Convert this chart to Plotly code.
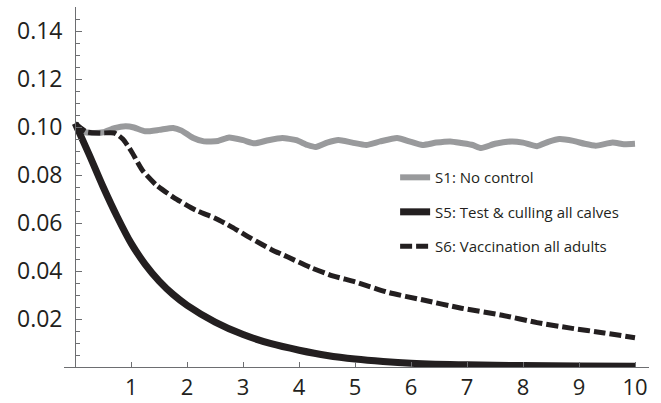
import plotly.graph_objects as go

# ---- data ----
s1_t = [0, 0.15, 0.3, 0.5, 0.7, 0.9, 1.05, 1.25, 1.5, 1.75, 1.9, 2.1, 2.3, 2.55, 2.75, 3.0, 3.2,
        3.45, 3.7, 3.95, 4.15, 4.3, 4.5, 4.7, 4.95, 5.2, 5.45, 5.75, 6.0, 6.2, 6.45, 6.7, 6.9,
        7.1, 7.25, 7.5, 7.8, 8.0, 8.25, 8.45, 8.65, 8.9, 9.1, 9.3, 9.6, 9.8, 10.0]
s1_v = [0.1012, 0.098, 0.0975, 0.0978, 0.0995, 0.1003, 0.0998, 0.0982, 0.0988, 0.0996, 0.0985,
        0.0955, 0.094, 0.0942, 0.0956, 0.0945, 0.0932, 0.0945, 0.0954, 0.0945, 0.0925, 0.0917,
        0.0935, 0.0946, 0.0935, 0.0925, 0.094, 0.0954, 0.0938, 0.0925, 0.0935, 0.094, 0.0933,
        0.0925, 0.0912, 0.093, 0.094, 0.0935, 0.092, 0.0938, 0.095, 0.0942, 0.093, 0.0922,
        0.0935, 0.0928, 0.093]

s5_t = [0, 0.25, 0.5, 0.75, 1.0, 1.25, 1.5, 1.75, 2.0, 2.5, 3.0, 3.5, 4.0, 4.5, 5.0,
        5.5, 6.0, 7.0, 8.0, 9.0, 10.0]
s5_v = [0.1015, 0.0885, 0.075, 0.0626, 0.0515, 0.0428, 0.0358, 0.0302, 0.0257, 0.0187,
        0.0135, 0.0097, 0.007, 0.0048, 0.0033, 0.0023, 0.0016, 0.0009, 0.0006, 0.0004, 0.0003]

s6_t = [0, 0.2, 0.45, 0.7, 0.85, 1.0, 1.2, 1.45, 1.75, 2.15, 2.5, 2.8, 3.15, 3.5, 3.8, 4.2,
        4.6, 5.0, 5.6, 6.2, 6.9, 7.6, 8.25, 8.85, 9.45, 10.0]
s6_v = [0.1015, 0.098, 0.0975, 0.0975, 0.095, 0.09, 0.082, 0.0758, 0.0708, 0.0654, 0.062,
        0.0583, 0.0535, 0.049, 0.0458, 0.0415, 0.038, 0.0355, 0.031, 0.028, 0.0245, 0.0217,
        0.0185, 0.0162, 0.0142, 0.0122]

series_names = ["S1: No control", "S5: Test & culling all calves", "S6: Vaccination all adults"]

x_tick_vals = [1, 2, 3, 4, 5, 6, 7, 8, 9, 10]
x_tick_text = ["1", "2", "3", "4", "5", "6", "7", "8", "9", "10"]
y_tick_vals = [0.02, 0.04, 0.06, 0.08, 0.10, 0.12, 0.14]
y_tick_text = ["0.02", "0.04", "0.06", "0.08", "0.10", "0.12", "0.14"]

X_RANGE = [-0.2, 10.25]
Y_RANGE = [0, 0.15]

INK = "#231f20"
AXIS = "#6d6e71"
FONT = "Open Sans"

fig = go.Figure()
fig.add_trace(go.Scatter(x=s1_t, y=s1_v, mode="lines", name=series_names[0], legendgroup="a",
                         line=dict(color="#999a9c", width=6, shape="spline", smoothing=0.5)))
fig.add_trace(go.Scatter(x=s5_t, y=s5_v, mode="lines", name=series_names[1], legendgroup="b",
                         line=dict(color=INK, width=7, shape="spline", smoothing=0.8)))
fig.add_trace(go.Scatter(x=s6_t, y=s6_v, mode="lines", name=series_names[2], legendgroup="c",
                         line=dict(color=INK, width=5, dash="12px,4px", shape="spline", smoothing=0.6)))

ypos = (0 - X_RANGE[0]) / (X_RANGE[1] - X_RANGE[0])

fig.update_layout(
    width=661, height=403,
    margin=dict(l=64, r=12, t=7, b=36, autoexpand=False),
    paper_bgcolor="white", plot_bgcolor="white",
    font=dict(family=FONT, color=INK),
    showlegend=True,
    legend=dict(x=0.566, y=0.572, xanchor="left", yanchor="top",
                bgcolor="rgba(0,0,0,0)", font=dict(size=15, color=INK, family=FONT),
                traceorder="grouped", tracegroupgap=12),
    xaxis=dict(range=X_RANGE, showgrid=False, zeroline=False, showline=True,
               automargin=False,
               linecolor=AXIS, linewidth=1.2,
               tickmode="array", tickvals=x_tick_vals, ticktext=x_tick_text,
               ticks="inside", ticklen=5, tickcolor=AXIS, tickwidth=1,
               ticklabelstandoff=0,
               tickfont=dict(size=22, color=INK, family=FONT)),
    yaxis=dict(range=Y_RANGE, showgrid=False, zeroline=False, showline=True,
               automargin=False,
               linecolor=AXIS, linewidth=1.2, anchor="free", position=ypos,
               tickmode="array", tickvals=y_tick_vals, ticktext=y_tick_text,
               ticks="inside", ticklen=6, tickcolor=AXIS, tickwidth=1,
               ticklabelstandoff=8,
               minor=dict(ticks="inside", tickmode="linear", tick0=0, dtick=0.005,
                          ticklen=4, tickcolor=AXIS, tickwidth=1),
               tickfont=dict(size=23, color=INK, family=FONT)),
)

fig.write_html("out.html")
